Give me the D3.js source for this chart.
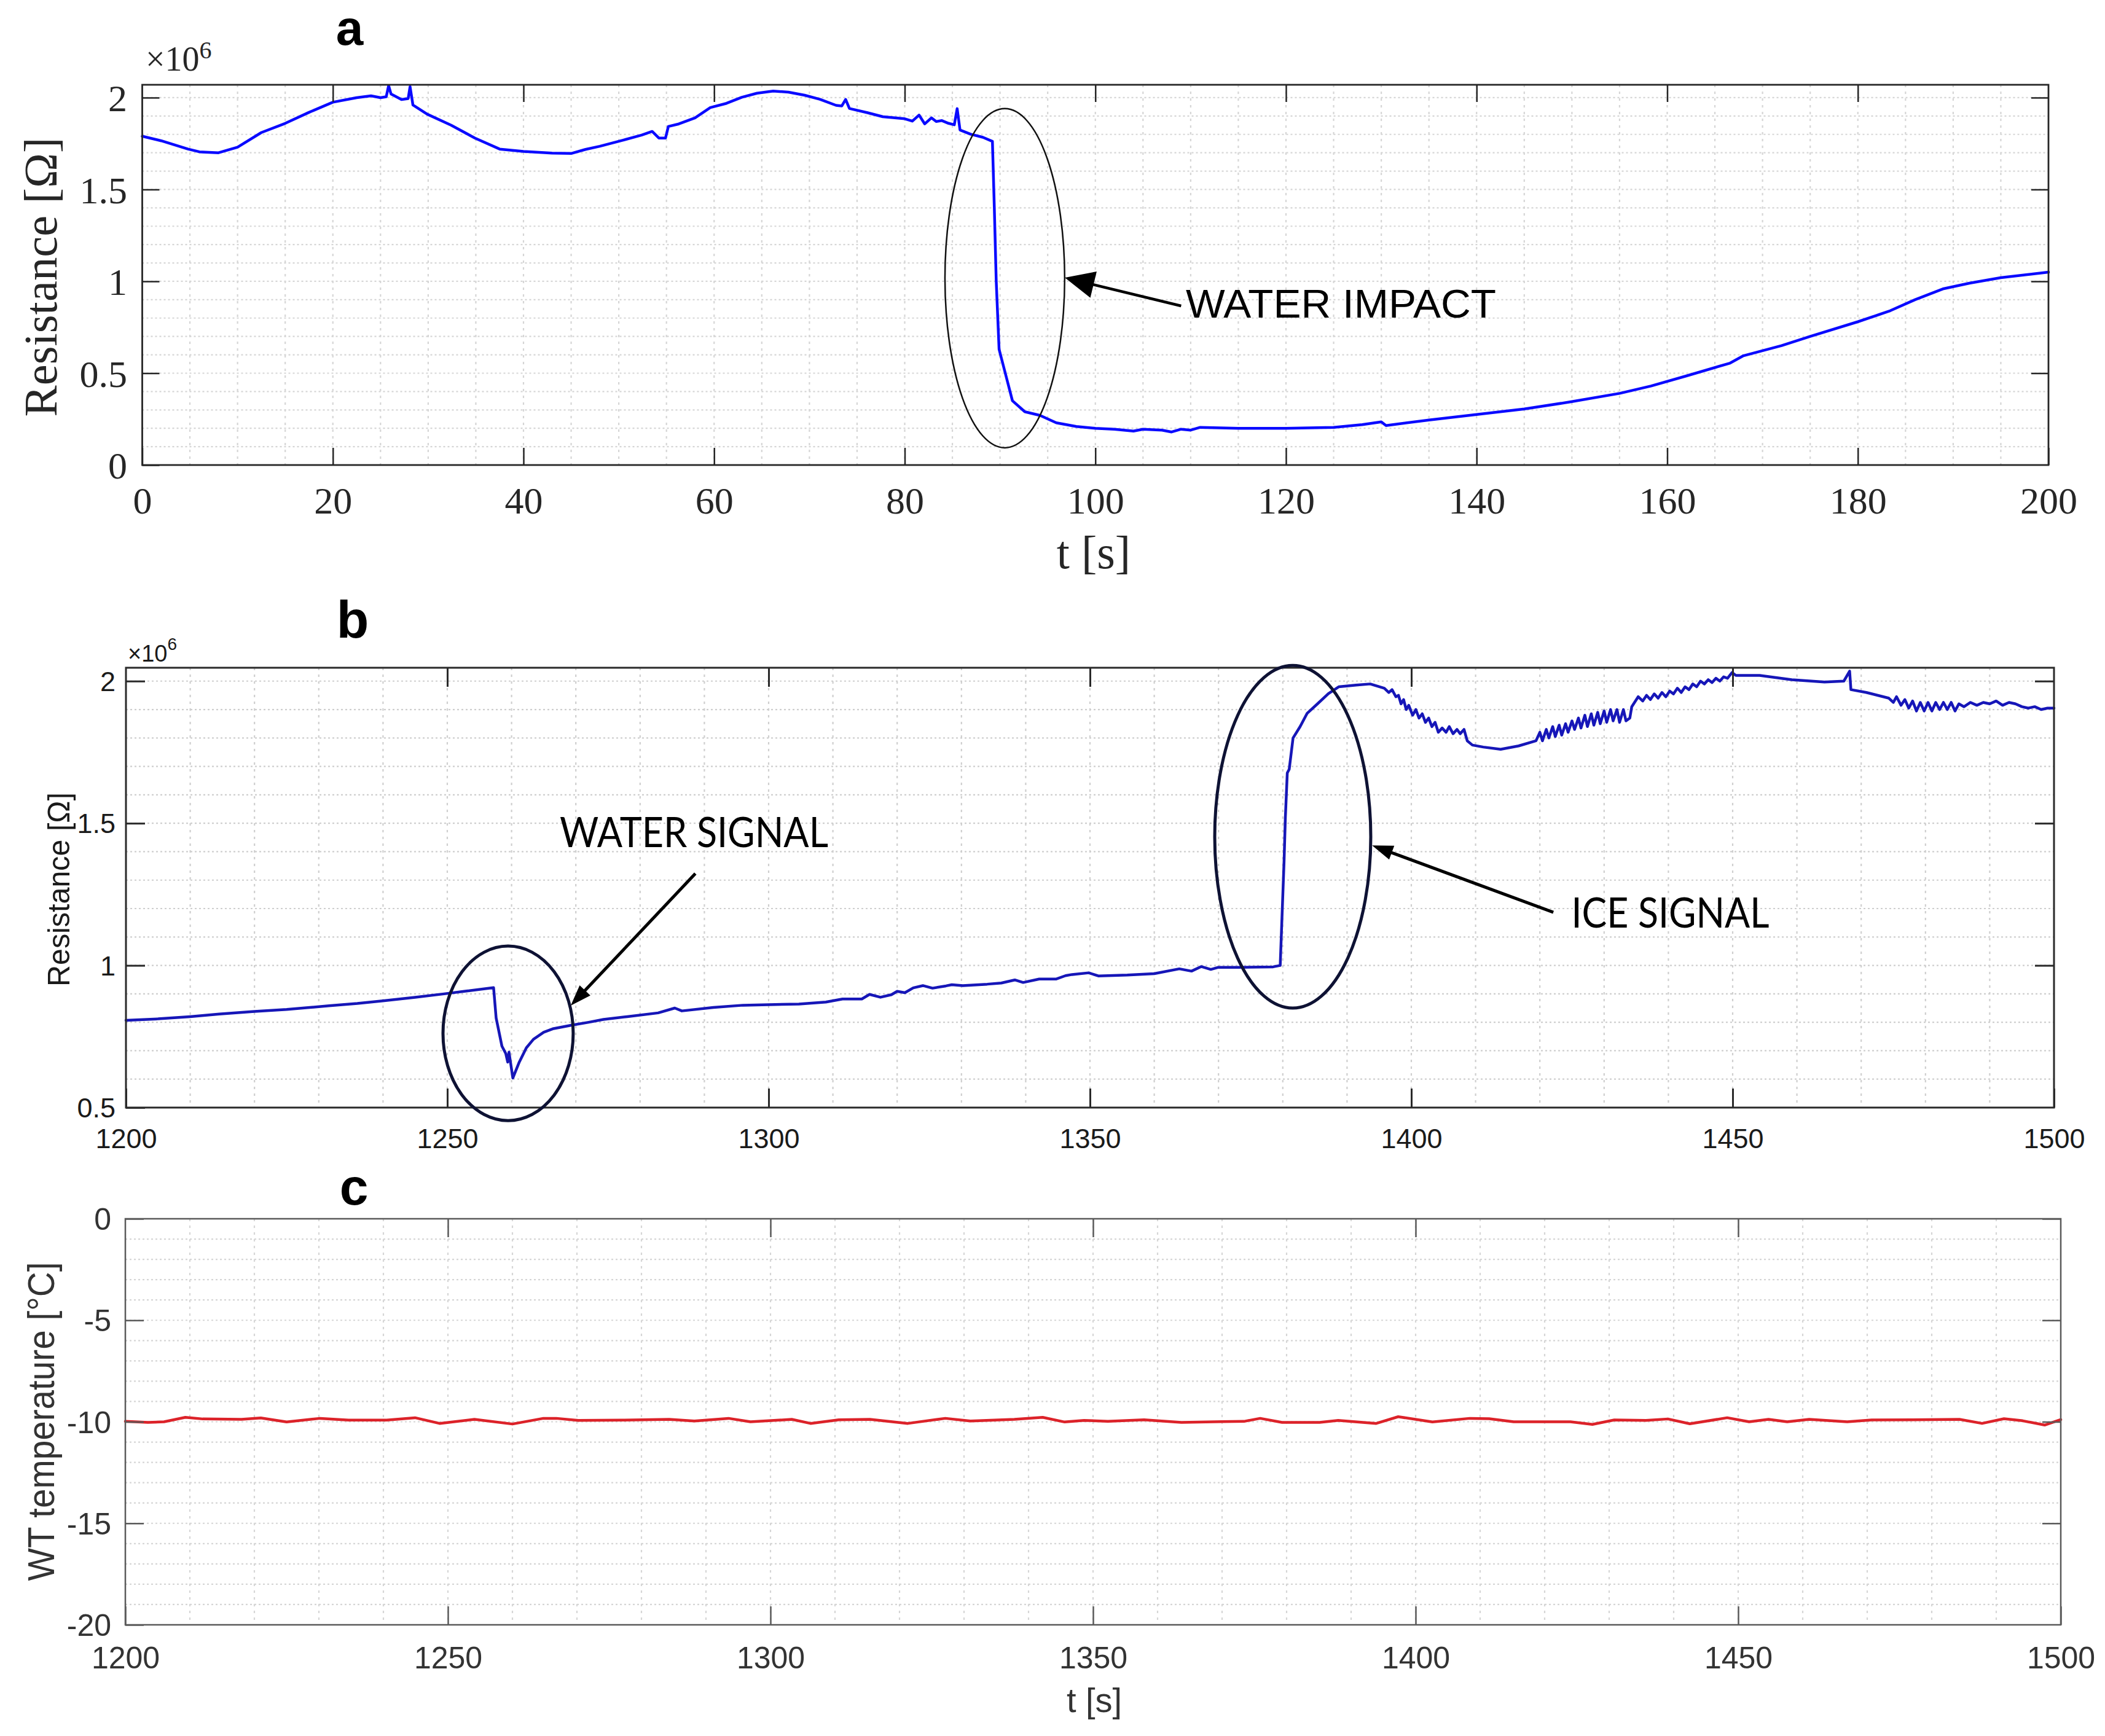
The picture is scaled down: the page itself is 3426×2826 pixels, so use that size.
<!DOCTYPE html>
<html>
<head>
<meta charset="utf-8">
<script src="https://cdn.jsdelivr.net/npm/d3@7"></script>
<style>
  html, body { margin: 0; padding: 0; background: #ffffff; }
  svg { display: block; }
</style>
</head>
<body>
<svg id="fig" width="3426" height="2826"></svg>
<script>
// ---------------- DATA ----------------
// Panel a: resistance (x10^6 Ohm) vs time (s)
const seriesA = [
  [0,1.79],[2,1.765],[4.8,1.72],[6,1.705],[8,1.70],[10,1.73],[12.5,1.81],[15,1.86],[17.5,1.92],[20,1.975],
  [22.5,2.0],[24,2.01],[25,2.0],[25.6,2.005],[25.85,2.065],[26.1,2.02],[27.2,1.99],[27.9,1.995],[28.1,2.06],[28.4,1.96],
  [29.9,1.91],[32.4,1.85],[34.9,1.78],[37.5,1.72],[40,1.707],[43,1.698],[45,1.696],[46.5,1.718],[48,1.735],[50.4,1.768],
  [52.4,1.796],[53.5,1.816],[54.2,1.78],[54.9,1.78],[55.2,1.843],[56.3,1.857],[58,1.89],[59.6,1.946],[61.3,1.969],[62.9,2.002],
  [64.5,2.024],[66.2,2.036],[67.8,2.03],[69.5,2.013],[71.1,1.991],[72.8,1.958],[73.4,1.955],[73.8,1.99],[74.2,1.941],[76.1,1.918],
  [77.7,1.896],[80,1.885],[80.8,1.872],[81.5,1.905],[82.1,1.857],[82.8,1.89],[83.3,1.87],[83.9,1.875],[84.6,1.86],[85.2,1.852],
  [85.5,1.94],[85.8,1.824],[86.9,1.801],[88.2,1.784],[89.2,1.762],[89.4,1.40],[89.6,1.0],[89.9,0.63],[90.5,0.51],[91.3,0.35],
  [92.6,0.29],[94.2,0.27],[95.9,0.23],[98,0.21],[100,0.20],[102,0.195],[104,0.185],[105,0.195],[107,0.19],[108,0.18],
  [109,0.195],[110,0.19],[111,0.205],[115,0.20],[120,0.20],[125,0.205],[128,0.22],[130,0.235],[130.5,0.215],[135,0.245],
  [140,0.275],[145,0.305],[150,0.345],[155,0.39],[158.3,0.43],[162,0.485],[166.6,0.555],[168,0.595],[172,0.65],[175,0.70],
  [180,0.78],[183.4,0.84],[186,0.90],[189,0.96],[191.7,0.99],[195,1.02],[200,1.05]
];
// Panel b: resistance (x10^6 Ohm) vs time (s)
const seriesB = [
  [1200,0.807],[1205,0.812],[1210,0.82],[1214.5,0.829],[1220,0.838],[1225,0.845],[1231.6,0.858],[1236,0.866],[1240.2,0.876],[1245,0.888],
  [1249.5,0.90],[1253,0.91],[1257.2,0.922],[1257.6,0.815],[1258.5,0.716],[1259.1,0.69],[1259.4,0.66],[1259.6,0.695],[1260.2,0.604],[1261.2,0.66],
  [1262.3,0.71],[1263.4,0.74],[1265,0.765],[1266.4,0.777],[1269.4,0.79],[1272,0.80],[1274.3,0.81],[1278,0.82],[1282.8,0.833],[1285.4,0.85],
  [1286.5,0.84],[1291.4,0.852],[1296,0.86],[1300,0.862],[1304.7,0.864],[1308.9,0.871],[1311.5,0.882],[1314.5,0.882],[1315.7,0.898],[1317.4,0.888],
  [1319.1,0.897],[1320,0.909],[1321.2,0.904],[1322.5,0.921],[1324,0.929],[1325.5,0.92],[1327.6,0.928],[1328.5,0.932],[1330.2,0.929],[1334,0.934],
  [1336.2,0.938],[1338.3,0.949],[1339.6,0.94],[1342.1,0.952],[1344.7,0.952],[1346.2,0.964],[1347.2,0.968],[1349.8,0.974],[1351.3,0.963],[1355.8,0.966],
  [1360,0.971],[1363.9,0.988],[1365.8,0.98],[1367.3,0.996],[1368.8,0.986],[1369.9,0.993],[1373,0.993],[1378.5,0.995],[1379.6,1.0],[1380.2,1.367],
  [1380.4,1.52],[1380.7,1.677],[1381,1.69],[1381.6,1.80],[1382.7,1.84],[1383.8,1.887],[1385.4,1.92],[1387.1,1.956],[1388.7,1.98],[1391.4,1.986],
  [1393.6,1.99],[1395.8,1.975],[1396.5,1.96],[1397,1.97],[1397.6,1.945],[1398,1.95],[1398.4,1.92],[1398.8,1.935],[1399.2,1.90],[1399.6,1.915],
  [1400.2,1.88],[1400.7,1.90],[1401.2,1.87],[1401.7,1.885],[1402.2,1.855],[1402.7,1.87],[1403.2,1.84],[1403.7,1.855],[1404.2,1.82],[1404.8,1.835],
  [1405.4,1.82],[1405.9,1.84],[1406.5,1.815],[1407.1,1.83],[1407.6,1.815],[1408.2,1.83],[1408.7,1.79],[1409.5,1.775],[1411.2,1.768],[1413.9,1.76],
  [1416.7,1.772],[1419.4,1.79],[1420.0,1.82],[1420.4,1.79],[1421.0,1.83],[1421.4,1.80],[1422.0,1.84],[1422.4,1.805],[1423.0,1.845],[1423.4,1.81],
  [1424.0,1.85],[1424.4,1.82],[1425.0,1.86],[1425.4,1.83],[1426.0,1.87],[1426.4,1.835],[1427.0,1.88],[1427.4,1.84],[1428.0,1.885],[1428.4,1.845],
  [1429.0,1.89],[1429.4,1.85],[1430.0,1.895],[1430.4,1.855],[1431.0,1.90],[1431.4,1.86],[1432.0,1.90],[1432.4,1.855],[1433.0,1.90],[1433.4,1.86],
  [1434.0,1.87],[1434.3,1.91],[1435.3,1.945],[1436,1.93],[1436.6,1.95],[1437.2,1.935],[1437.8,1.955],[1438.4,1.94],[1439,1.96],[1439.6,1.945],
  [1440.2,1.965],[1440.8,1.955],[1441.4,1.975],[1442,1.96],[1442.6,1.98],[1443.2,1.97],[1443.8,1.99],[1444.4,1.98],[1445,2.0],[1445.6,1.99],
  [1446.2,2.005],[1446.8,1.995],[1447.4,2.01],[1448,2.0],[1448.6,2.015],[1449.2,2.01],[1449.9,2.03],[1450.5,2.02],[1454.2,2.02],[1459.2,2.005],
  [1464.3,1.997],[1467.3,2.0],[1468.2,2.035],[1468.4,1.97],[1470.8,1.96],[1474.3,1.94],[1475,1.925],[1475.5,1.945],[1476.2,1.915],[1476.8,1.935],
  [1477.4,1.905],[1478,1.93],[1478.6,1.895],[1479.2,1.925],[1479.8,1.895],[1480.4,1.925],[1481,1.895],[1481.6,1.925],[1482.2,1.9],[1482.8,1.925],
  [1483.4,1.9],[1484,1.925],[1484.6,1.895],[1485.2,1.92],[1486,1.91],[1487,1.925],[1488,1.915],[1489,1.925],[1490,1.92],[1491,1.93],
  [1492,1.915],[1493,1.925],[1494,1.92],[1495,1.91],[1496,1.905],[1497,1.91],[1498,1.9],[1499,1.905],[1500,1.905]
];
// Panel c: wind-tunnel temperature (°C) vs time (s)
const seriesC = [
  [1200,-9.98],[1203.5,-10.03],[1206,-10.0],[1209.3,-9.78],[1212,-9.86],[1218,-9.88],[1221,-9.81],[1225,-10.01],[1230.2,-9.83],[1234.6,-9.92],
  [1240.5,-9.92],[1244.9,-9.8],[1248.7,-10.08],[1254.1,-9.88],[1260,-10.11],[1264.8,-9.83],[1266.8,-9.83],[1270.2,-9.93],[1277,-9.92],[1284.3,-9.88],
  [1288.2,-9.96],[1293.5,-9.83],[1296.9,-10.0],[1303.3,-9.88],[1306.2,-10.08],[1310.6,-9.9],[1315.4,-9.88],[1321.3,-10.08],[1327.1,-9.83],[1331,-9.96],
  [1337.8,-9.88],[1342.2,-9.78],[1345.6,-10.01],[1348.6,-9.93],[1352.3,-9.98],[1357.9,-9.9],[1363.7,-10.03],[1370,-9.99],[1373.4,-9.98],[1375.9,-9.83],
  [1379.3,-10.03],[1385.1,-10.03],[1388,-9.93],[1393.9,-10.08],[1397.3,-9.75],[1402.6,-10.01],[1408.4,-9.83],[1411.4,-9.85],[1415.2,-10.0],[1424,-10.0],
  [1427.4,-10.13],[1430.8,-9.91],[1435.7,-9.93],[1439.1,-9.86],[1442.5,-10.1],[1448.3,-9.8],[1451.7,-10.0],[1454.7,-9.88],[1457.6,-10.0],[1461,-9.88],
  [1466.9,-10.0],[1470.7,-9.91],[1477,-9.9],[1484.3,-9.88],[1487.8,-10.08],[1491.2,-9.85],[1494.1,-9.95],[1497.5,-10.16],[1500,-9.89]
];
// Tick values and labels
const ticksAx = [0,20,40,60,80,100,120,140,160,180,200];
const ticksAy = [0,0.5,1,1.5,2];
const labelsAy = ["0","0.5","1","1.5","2"];
const ticksBx = [1200,1250,1300,1350,1400,1450,1500];
const ticksBy = [0.5,1,1.5,2];
const labelsBy = ["0.5","1","1.5","2"];
const ticksCx = [1200,1250,1300,1350,1400,1450,1500];
const ticksCy = [0,-5,-10,-15,-20];
const labelsCy = ["0","-5","-10","-15","-20"];
// Annotations (in data coordinates)
const annotA = {ellipse:{t:90.5, v:1.017, rt:6.28, rv:0.923}, arrow:{from:[109.0,0.866], to:[96.8,1.02]}, text:{t:109.5, v:0.803, label:"WATER IMPACT"}};
const annotBWater = {ellipse:{t:1259.46, v:0.761, rt:10.13, rv:0.307}, arrow:{from:[1288.6,1.323], to:[1269.2,0.8585]}, text:{t:1267.5, v:1.416, label:"WATER SIGNAL"}};
const annotBIce = {ellipse:{t:1381.55, v:1.4525, rt:12.14, rv:0.6026}, arrow:{from:[1422.1,1.187], to:[1393.9,1.422]}, text:{t:1424.9, v:1.133, label:"ICE SIGNAL"}};

// ---------------- DRAWING ----------------
const svg = d3.select('#fig');

function drawPanel(cfg) {
  const g = svg.append('g');
  const x = d3.scaleLinear().domain(cfg.xDomain).range([cfg.left, cfg.right]);
  const y = d3.scaleLinear().domain(cfg.yDomain).range([cfg.bottom, cfg.top]);

  // grid (dotted)
  const xg = d3.range(cfg.xDomain[0], cfg.xDomain[1] + 1e-9, cfg.xMinor).filter(v => v > cfg.xDomain[0] + 1e-9 && v < cfg.xDomain[1] - 1e-9);
  const yg = d3.range(cfg.yGridStart, cfg.yDomain[1] + 1e-9, cfg.yMinor).filter(v => v > cfg.yDomain[0] + 1e-9 && v < cfg.yDomain[1] - 1e-9);
  g.append('g').selectAll('line').data(xg).join('line')
    .attr('x1', d => x(d)).attr('x2', d => x(d))
    .attr('y1', cfg.top).attr('y2', cfg.bottom)
    .attr('stroke', cfg.gridColor).attr('stroke-width', 2.2).attr('stroke-dasharray', '4,7');
  g.append('g').selectAll('line').data(yg).join('line')
    .attr('y1', d => y(d)).attr('y2', d => y(d))
    .attr('x1', cfg.left).attr('x2', cfg.right)
    .attr('stroke', cfg.gridColor).attr('stroke-width', 2.2).attr('stroke-dasharray', '3,4');

  // data line
  const line = d3.line().x(d => x(d[0])).y(d => y(d[1]));
  g.append('path').datum(cfg.data).attr('d', line)
    .attr('fill', 'none').attr('stroke', cfg.lineColor).attr('stroke-width', cfg.lineWidth)
    .attr('stroke-linejoin', 'round').attr('stroke-linecap', 'round');

  // axes with inward ticks
  const fmtX = d => String(d);
  const axB = d3.axisBottom(x).tickValues(cfg.xTicks).tickSize(-cfg.tickLen).tickPadding(cfg.xPad).tickFormat(fmtX);
  const axT = d3.axisTop(x).tickValues(cfg.xTicks).tickSize(-cfg.tickLen).tickFormat('');
  const axL = d3.axisLeft(y).tickValues(cfg.yTicks).tickSize(-cfg.tickLen).tickPadding(cfg.yPad).tickFormat((d, i) => cfg.yLabels[i]);
  const axR = d3.axisRight(y).tickValues(cfg.yTicks).tickSize(-cfg.tickLen).tickFormat('');
  const gB = g.append('g').attr('transform', `translate(0,${cfg.bottom})`).call(axB);
  const gT = g.append('g').attr('transform', `translate(0,${cfg.top})`).call(axT);
  const gL = g.append('g').attr('transform', `translate(${cfg.left},0)`).call(axL);
  const gR = g.append('g').attr('transform', `translate(${cfg.right},0)`).call(axR);
  [gB, gT, gL, gR].forEach(a => {
    a.select('.domain').remove();
    a.selectAll('.tick line').attr('stroke', cfg.axisColor).attr('stroke-width', cfg.tickWidth);
    a.selectAll('.tick text').attr('fill', cfg.textColor)
      .style('font-family', cfg.font).style('font-size', cfg.tickFont + 'px');
  });
  gB.selectAll('.tick text').attr('dy', null).attr('y', cfg.xLabelBaseline - cfg.bottom);
  gL.selectAll('.tick text').attr('dy', '0.35em').attr('x', -(cfg.left - cfg.yLabelRight));
  gR.selectAll('.tick').filter(d => d === cfg.yDomain[0]).remove();
  gT.selectAll('.tick').filter(d => d === cfg.xDomain[0] || d === cfg.xDomain[1]).remove();

  // box
  g.append('rect').attr('x', cfg.left).attr('y', cfg.top)
    .attr('width', cfg.right - cfg.left).attr('height', cfg.bottom - cfg.top)
    .attr('fill', 'none').attr('stroke', cfg.axisColor).attr('stroke-width', cfg.boxWidth);

  // axis labels
  if (cfg.xTitle.text) {
    g.append('text').attr('x', cfg.xTitle.x).attr('y', cfg.xTitle.y).attr('text-anchor', 'middle')
      .style('font-family', cfg.font).style('font-size', cfg.xTitle.size + 'px').attr('fill', cfg.textColor)
      .text(cfg.xTitle.text);
  }
  g.append('text').attr('transform', `translate(${cfg.yTitle.x},${cfg.yTitle.y}) rotate(-90)`)
    .attr('text-anchor', 'middle').attr('dominant-baseline', 'central')
    .attr('textLength', cfg.yTitle.len).attr('lengthAdjust', 'spacingAndGlyphs')
    .style('font-family', cfg.font).style('font-size', cfg.yTitle.size + 'px').attr('fill', cfg.textColor)
    .text(cfg.yTitle.text);
  return {g, x, y};
}

function annotate(p, a, style) {
  const {g, x, y} = p;
  const e = a.ellipse;
  g.append('ellipse').attr('cx', x(e.t)).attr('cy', y(e.v))
    .attr('rx', x(e.t + e.rt) - x(e.t)).attr('ry', y(e.v) - y(e.v + e.rv))
    .attr('fill', 'none').attr('stroke', style.ellipseColor).attr('stroke-width', style.ellipseWidth);
  const x1 = x(a.arrow.from[0]), y1 = y(a.arrow.from[1]);
  const x2 = x(a.arrow.to[0]), y2 = y(a.arrow.to[1]);
  const ang = Math.atan2(y2 - y1, x2 - x1);
  const L = style.headLen, W = style.headHalf;
  const bx = x2 - L * Math.cos(ang), by = y2 - L * Math.sin(ang);
  g.append('line').attr('x1', x1).attr('y1', y1).attr('x2', bx + 2 * Math.cos(ang)).attr('y2', by + 2 * Math.sin(ang))
    .attr('stroke', '#000').attr('stroke-width', style.arrowWidth);
  const pts = [[x2, y2], [bx - W * Math.sin(ang), by + W * Math.cos(ang)], [bx + W * Math.sin(ang), by - W * Math.cos(ang)]];
  g.append('polygon').attr('points', pts.map(p => p.join(',')).join(' ')).attr('fill', '#000');
  g.append('text').attr('x', x(a.text.t)).attr('y', y(a.text.v))
    .attr('textLength', style.textLen).attr('lengthAdjust', 'spacingAndGlyphs')
    .style('font-family', style.font).style('font-size', style.fontSize + 'px').attr('fill', '#000')
    .text(a.text.label);
}

// ---- Panel a ----
const pA = drawPanel({
  data: seriesA, xDomain: [0, 200], yDomain: [0, 2.07],
  left: 231.5, right: 3334, top: 138, bottom: 757,
  xTicks: ticksAx, yTicks: ticksAy, yLabels: labelsAy,
  xMinor: 5, yMinor: 0.1, yGridStart: 0,
  gridColor: '#d6d6d6', lineColor: '#0a0aff', lineWidth: 4.5,
  axisColor: '#262626', textColor: '#262626', tickLen: 28, tickWidth: 2.5, boxWidth: 2.8,
  font: "'Liberation Serif', 'DejaVu Serif', serif", tickFont: 62,
  xPad: 10, xLabelBaseline: 836, yPad: 10, yLabelRight: 207,
  xTitle: {x: 1780, y: 925, size: 76, text: 't [s]'},
  yTitle: {x: 66, y: 451, size: 76, len: 455, text: 'Resistance [Ω]'}
});
annotate(pA, annotA, {ellipseColor: '#111', ellipseWidth: 2.5, arrowWidth: 4.5, headLen: 48, headHalf: 22,
  font: "'Liberation Sans', Arial, sans-serif", fontSize: 64, textLen: 505});

// ---- Panel b ----
const pB = drawPanel({
  data: seriesB, xDomain: [1200, 1500], yDomain: [0.5, 2.047],
  left: 205, right: 3343, top: 1087, bottom: 1803,
  xTicks: ticksBx, yTicks: ticksBy, yLabels: labelsBy,
  xMinor: 10, yMinor: 0.1, yGridStart: 0.5,
  gridColor: '#cfcfcf', lineColor: '#1616b8', lineWidth: 4.5,
  axisColor: '#2a2a2a', textColor: '#1a1a1a', tickLen: 31, tickWidth: 3, boxWidth: 3,
  font: "'Liberation Sans', Arial, sans-serif", tickFont: 45,
  xPad: 10, xLabelBaseline: 1869, yPad: 10, yLabelRight: 188,
  xTitle: {x: 0, y: 0, size: 10, text: ''},
  yTitle: {x: 96, y: 1448, size: 50, len: 316, text: 'Resistance [Ω]'}
});
annotate(pB, annotBWater, {ellipseColor: '#0e1234', ellipseWidth: 5, arrowWidth: 5, headLen: 34, headHalf: 12,
  font: "Lato, 'Open Sans', sans-serif", fontSize: 68, textLen: 437});
annotate(pB, annotBIce, {ellipseColor: '#0e1234', ellipseWidth: 5, arrowWidth: 5, headLen: 34, headHalf: 12,
  font: "Lato, 'Open Sans', sans-serif", fontSize: 68, textLen: 322});

// ---- Panel c ----
const pC = drawPanel({
  data: seriesC, xDomain: [1200, 1500], yDomain: [-20, 0],
  left: 204, right: 3354, top: 1984, bottom: 2645,
  xTicks: ticksCx, yTicks: ticksCy, yLabels: labelsCy,
  xMinor: 10, yMinor: 1, yGridStart: -20,
  gridColor: '#d6d6d6', lineColor: '#dc2229', lineWidth: 4.5,
  axisColor: '#5a5a5a', textColor: '#333333', tickLen: 30, tickWidth: 2.5, boxWidth: 2.5,
  font: "'Liberation Sans', Arial, sans-serif", tickFont: 50,
  xPad: 10, xLabelBaseline: 2716, yPad: 10, yLabelRight: 181,
  xTitle: {x: 1781, y: 2787, size: 56, text: 't [s]'},
  yTitle: {x: 66, y: 2314, size: 62, len: 519, text: 'WT temperature [°C]'}
});

// ---- panel letters and multipliers ----
const letters = [
  {t: 'a', x: 569, y: 73, size: 80},
  {t: 'b', x: 574, y: 1038, size: 86},
  {t: 'c', x: 576, y: 1961, size: 84}
];
svg.selectAll('text.letter').data(letters).join('text').attr('class', 'letter')
  .attr('x', d => d.x).attr('y', d => d.y).attr('text-anchor', 'middle')
  .style('font-family', "'Liberation Sans', Arial, sans-serif").style('font-weight', 'bold')
  .style('font-size', d => d.size + 'px').attr('fill', '#000').text(d => d.t);

const mA = svg.append('text').attr('x', 237).attr('y', 115)
  .style('font-family', "'Liberation Serif', serif").style('font-size', '56px').attr('fill', '#262626');
mA.append('tspan').text('×10');
mA.append('tspan').attr('dy', -20).style('font-size', '40px').text('6');

const mB = svg.append('text').attr('x', 208).attr('y', 1077)
  .style('font-family', "'Liberation Sans', Arial, sans-serif").style('font-size', '38px').attr('fill', '#1a1a1a');
mB.append('tspan').text('×10');
mB.append('tspan').attr('dy', -19).style('font-size', '28px').text('6');
</script>
</body>
</html>
